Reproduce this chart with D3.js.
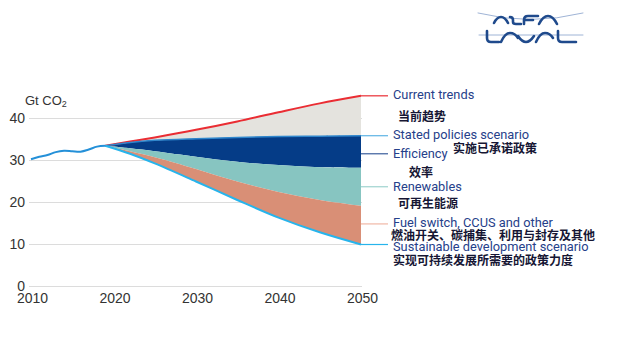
<!DOCTYPE html>
<meta charset="utf-8">
<style>
	body {
		margin: 0;
		background: #fff;
	}

	.axis text {
		font: 14px "Liberation Sans", Arial, sans-serif;
		fill: #333;
	}

	.grid line {
		stroke: #dcdcdc;
		stroke-width: 1;
	}

	.label-en {
		font: 12.8px Roboto, sans-serif;
		fill: #26408a;
	}

	.label-zh {
		font: bold 12px "Noto Sans CJK SC", sans-serif;
		fill: #161634;
	}
</style>

<body>
	<script src="https://d3js.org/d3.v7.min.js"></script>
	<script>
		// historical emissions, Gt CO2
		var histYears = [2010, 2011, 2012, 2013, 2014, 2015, 2016, 2017, 2018, 2019];
		var histValues = [30.3, 30.9, 31.3, 32.0, 32.3, 32.2, 32.1, 32.6, 33.3, 33.5];

		// scenario pathways
		var scenYears = [2019, 2022, 2025, 2030, 2035, 2040, 2045, 2050];
		var currentTrends = [33.5, 34.5, 35.5, 37.3, 39.3, 41.5, 43.6, 45.4];
		var statedPolicies = [33.5, 34.3, 34.8, 35.2, 35.5, 35.7, 35.8, 35.9];
		var efficiency = [33.5, 32.9, 32.2, 30.9, 29.7, 28.9, 28.4, 28.3];
		var renewables = [33.5, 32.2, 30.8, 28.0, 25.0, 22.5, 20.6, 19.2];
		var sustainable = [33.5, 31.6, 29.3, 25.0, 20.6, 16.4, 12.9, 10.0];

		var yTicks = [0, 10, 20, 30, 40];
		var xTicks = [2010, 2020, 2030, 2040, 2050];

		var namesEn = ["Current trends", "Stated policies scenario", "Efficiency", "Renewables",
			"Fuel switch, CCUS and other", "Sustainable development scenario"];
		var namesZh = ["当前趋势", "实施已承诺政策", "效率", "可再生能源",
			"燃油开关、碳捕集、利用与封存及其他", "实现可持续发展所需要的政策力度"];

		var width = 640,
			height = 346;

		var x = d3.scaleLinear()
			.domain([2010, 2050])
			.range([31, 361]);

		var y = d3.scaleLinear()
			.domain([0, 40])
			.range([286.5, 118.5]);

		var svg = d3.select("body").append("svg")
			.attr("width", width)
			.attr("height", height);

		// gridlines
		svg.append("g")
			.attr("class", "grid")
			.selectAll("line")
			.data(yTicks)
			.enter().append("line")
			.attr("x1", 29)
			.attr("x2", 362)
			.attr("y1", function(d) { return y(d); })
			.attr("y2", function(d) { return y(d); });

		svg.append("g")
			.attr("class", "axis")
			.selectAll("text")
			.data(yTicks)
			.enter().append("text")
			.attr("x", 25)
			.attr("y", function(d) { return y(d); })
			.attr("dy", "0.33em")
			.style("text-anchor", "end")
			.text(function(d) { return d; });

		svg.append("g")
			.attr("class", "axis")
			.selectAll("text")
			.data(xTicks)
			.enter().append("text")
			.attr("x", function(d) { return x(d) + 1.5; })
			.attr("y", 303)
			.style("text-anchor", "middle")
			.text(function(d) { return d; });

		var unit = svg.append("text")
			.attr("x", 25)
			.attr("y", 105)
			.style("font", "13px 'Liberation Sans', Arial, sans-serif")
			.style("fill", "#333")
			.text("Gt CO");
		unit.append("tspan")
			.attr("dy", 2)
			.style("font-size", "9px")
			.text("2");

		function band(lower, upper) {
			return d3.area()
				.curve(d3.curveCatmullRom)
				.x(function(d, i) { return x(scenYears[i]); })
				.y0(function(d, i) { return y(lower[i]); })
				.y1(function(d, i) { return y(upper[i]); })(scenYears);
		}

		function line(years, values) {
			return d3.line()
				.curve(d3.curveCatmullRom)
				.x(function(d, i) { return x(years[i]); })
				.y(function(d, i) { return y(values[i]); })(years);
		}

		svg.append("path").attr("d", band(statedPolicies, currentTrends)).attr("fill", "#e4e3de");
		svg.append("path").attr("d", band(efficiency, statedPolicies)).attr("fill", "#053c87");
		svg.append("path").attr("d", band(renewables, efficiency)).attr("fill", "#87c5c1");
		svg.append("path").attr("d", band(sustainable, renewables)).attr("fill", "#d98f76");

		svg.append("path").attr("d", line(scenYears, currentTrends))
			.attr("fill", "none").attr("stroke", "#ea2d33").attr("stroke-width", 2);
		svg.append("path").attr("d", line(scenYears, statedPolicies))
			.attr("fill", "none").attr("stroke", "#2f86cc").attr("stroke-width", 1.5);
		svg.append("path").attr("d", line(scenYears, sustainable))
			.attr("fill", "none").attr("stroke", "#27b4ec").attr("stroke-width", 2);
		svg.append("path").attr("d", line(histYears, histValues))
			.attr("fill", "none").attr("stroke", "#2490d8").attr("stroke-width", 2);

		// leaders and labels at the 2050 end
		var n = scenYears.length - 1;
		var leaderVals = [
			currentTrends[n],
			statedPolicies[n],
			(statedPolicies[n] + efficiency[n]) / 2 - 0.5,
			(efficiency[n] + renewables[n]) / 2,
			(renewables[n] + sustainable[n]) / 2 + 0.3,
			sustainable[n]
		];
		var leaderColors = ["#ea2d33", "#5db3e4", "#3a5d9c", "#9fd3cf", "#f0b7a6", "#27b4ec"];
		var enDy = [3.5, 3, 4.5, 4, 3.5, 6.5];
		var zhPos = [[398, 120.5], [453, 152.5], [409, 176.5], [398, 207.5], [391, 240], [393, 264.5]];

		var legend = svg.selectAll(".legend")
			.data(namesEn)
			.enter().append("g")
			.attr("class", "legend");

		legend.append("line")
			.attr("x1", 361)
			.attr("x2", 388)
			.attr("y1", function(d, i) { return y(leaderVals[i]); })
			.attr("y2", function(d, i) { return y(leaderVals[i]); })
			.attr("stroke", function(d, i) { return leaderColors[i]; })
			.attr("stroke-width", 1.2);

		legend.append("text")
			.attr("class", "label-en")
			.attr("x", 393)
			.attr("y", function(d, i) { return y(leaderVals[i]) + enDy[i]; })
			.text(function(d) { return d; });

		legend.append("text")
			.attr("class", "label-zh")
			.attr("x", function(d, i) { return zhPos[i][0]; })
			.attr("y", function(d, i) { return zhPos[i][1]; })
			.text(function(d, i) { return namesZh[i]; });

		// Alfa Laval wordmark
		var logo = svg.append("g")
			.attr("fill", "none")
			.attr("stroke-linecap", "round")
			.attr("stroke-linejoin", "round");

		logo.append("path")
			.attr("d", "M478,13 Q530,26 583,13")
			.attr("stroke", "#9fb4d6").attr("stroke-width", 1);
		logo.append("path")
			.attr("d", "M479,35 L583,35")
			.attr("stroke", "#9fb4d6").attr("stroke-width", 1);

		var mark = logo.append("g")
			.attr("stroke", "#1f4a8c")
			.attr("stroke-width", 2.6);
		// ALFA
		mark.append("path").attr("d", "M494,23 Q497,17 501,17 Q505,17 508,23");
		mark.append("path").attr("d", "M510,17 Q513,17 513,20 L513,22 Q513,24 516,24 L521,24");
		mark.append("path").attr("d", "M524,24 L524,20 Q524,16 528,16 L538,16 M524,20 L533,20");
		mark.append("path").attr("d", "M539,24 Q543,16 548,16 Q553,16 557,24");
		// LAVAL
		mark.append("path").attr("d", "M487,31 L487,38 Q487,42 491,42 L499,42");
		mark.append("path").attr("d", "M501,42 Q505,33 510,33 Q515,33 518,38");
		mark.append("path").attr("d", "M518,36 Q522,42 526,42 Q530,42 534,36");
		mark.append("path").attr("d", "M536,42 Q540,33 545,33 Q550,33 553,38");
		mark.append("path").attr("d", "M558,31 L558,38 Q558,42 562,42 L576,42");
	</script>
</body>
